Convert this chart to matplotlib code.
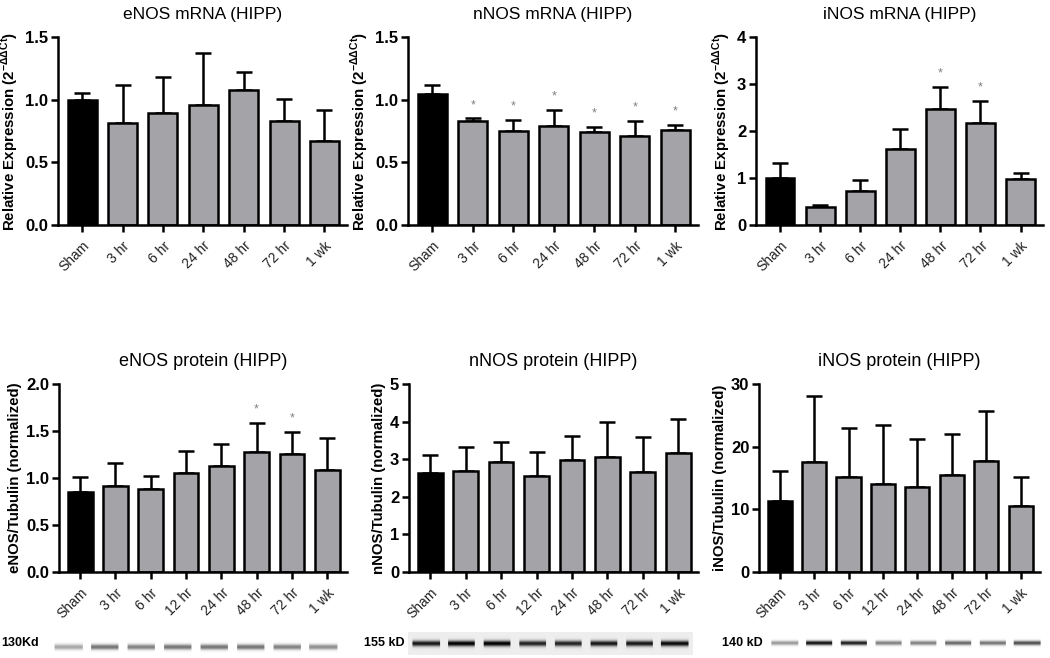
"""
NOS isoform mRNA and protein time course in hippocampus (6 panels + blots).
"""
import numpy as np
import matplotlib
matplotlib.use('Agg')
import matplotlib.pyplot as plt
from matplotlib import rcParams

rcParams['font.family'] = ['Liberation Sans', 'DejaVu Sans']
rcParams['mathtext.fontset'] = 'custom'
rcParams['mathtext.rm'] = 'Liberation Sans'
rcParams['mathtext.bf'] = 'Liberation Sans:bold'

# ---- data ----
mrna_groups = ['Sham', '3 hr', '6 hr', '24 hr', '48 hr', '72 hr', '1 wk']
prot_groups = ['Sham', '3 hr', '6 hr', '12 hr', '24 hr', '48 hr', '72 hr', '1 wk']

enos_mrna = [1.00, 0.815, 0.897, 0.96, 1.075, 0.826, 0.674]
enos_mrna_top = [1.05, 1.12, 1.18, 1.372, 1.218, 1.003, 0.918]
enos_mrna_star = []

nnos_mrna = [1.049, 0.83, 0.75, 0.79, 0.74, 0.71, 0.754]
nnos_mrna_top = [1.12, 0.85, 0.84, 0.92, 0.785, 0.83, 0.80]
nnos_mrna_star = [1, 2, 3, 4, 5, 6]

inos_mrna = [1.01, 0.39, 0.73, 1.61, 2.46, 2.17, 0.97]
inos_mrna_top = [1.32, 0.42, 0.95, 2.04, 2.93, 2.63, 1.11]
inos_mrna_star = [4, 5]

enos_prot = [0.855, 0.911, 0.883, 1.053, 1.124, 1.273, 1.252, 1.082]
enos_prot_top = [1.007, 1.16, 1.018, 1.284, 1.365, 1.585, 1.489, 1.426]
enos_prot_star = [5, 6]

nnos_prot = [2.63, 2.69, 2.93, 2.54, 2.99, 3.07, 2.65, 3.16]
nnos_prot_top = [3.12, 3.32, 3.45, 3.20, 3.63, 4.00, 3.60, 4.07]
nnos_prot_star = []

inos_prot = [11.3, 17.5, 15.1, 14.1, 13.5, 15.5, 17.7, 10.6]
inos_prot_top = [16.1, 28.1, 23.0, 23.5, 21.3, 22.0, 25.7, 15.2]
inos_prot_star = []

# western blot band darkness (0 = none, 1 = black), one per lane
enos_bands = [0.35, 0.55, 0.50, 0.55, 0.55, 0.55, 0.50, 0.45]
nnos_bands = [0.85, 0.95, 0.95, 0.80, 0.80, 0.85, 0.85, 0.90]
inos_bands = [0.40, 0.95, 0.90, 0.50, 0.50, 0.60, 0.55, 0.70]

W, H = 1050, 658
fig = plt.figure(figsize=(W / 100, H / 100), dpi=100)


def px_axes(l, t, r, b):
    return fig.add_axes([l / W, 1 - b / H, (r - l) / W, (b - t) / H])


gray = '#a4a4a8'


def bar_panel(ax, groups, vals, tops, stars, ymax, yticks, fmt, title, ylabel,
              width, tsize):
    x = np.arange(len(groups))
    colors = ['black'] + [gray] * (len(groups) - 1)
    up = np.array(tops) - np.array(vals)
    ax.errorbar(x, vals, yerr=[np.zeros(len(x)), up], fmt='none', ecolor='black',
                elinewidth=1.8, capsize=6, capthick=1.8, zorder=1)
    ax.bar(x, vals, width=width, color=colors, edgecolor='black', linewidth=1.8, zorder=2)
    for i in stars:
        ax.text(i, tops[i] + ymax * 0.04, '*', ha='center', va='bottom',
                fontsize=9, color='#808080')
    ax.set_xlim(-0.6, len(groups) - 1 + 0.56)
    ax.set_ylim(0, ymax)
    ax.set_yticks(yticks)
    ax.set_yticklabels([fmt.format(v) for v in yticks], fontsize=12, fontweight='bold')
    ax.set_xticks(x)
    ax.set_xticklabels(groups, rotation=45, ha='right', rotation_mode='anchor',
                       fontsize=10, color='#222222')
    ax.tick_params(direction='out', length=5, width=1.8)
    ax.tick_params(axis='x', pad=5)
    ax.tick_params(axis='y', pad=2)
    ax.spines['top'].set_visible(False)
    ax.spines['right'].set_visible(False)
    ax.spines['left'].set_linewidth(1.8)
    ax.spines['bottom'].set_linewidth(1.8)
    ax.spines['left'].set_bounds(0, ymax)
    ax.set_title(title, fontsize=tsize, pad=13)
    ax.set_ylabel(ylabel, fontsize=10.8, fontweight='bold', labelpad=3)


def blot(ax, bands, label, label_x, box=False):
    n = len(bands)
    yy = np.linspace(-1, 1, 40)[:, None]
    xx = np.linspace(0, n, n * 40)[None, :]
    lane = np.clip(xx.astype(int), 0, n - 1)
    frac = xx - np.floor(xx)
    dark = np.array(bands)[lane]
    img = dark * np.exp(-(yy / 0.25) ** 2) * (np.abs(frac - 0.5) < 0.38)
    base = 0.07 if box else 0.0
    ax.imshow(1 - np.clip(img + base, 0, 1), cmap='gray', vmin=0, vmax=1,
              aspect='auto', extent=[0, n, -1, 1], interpolation='bilinear')
    ax.set_axis_off()
    fig.text(label_x / W, 1 - 643 / H, label, fontsize=9, fontweight='bold',
             va='center', ha='left')


ylab_mrna = r'Relative Expression (2$^{\mathbf{-\Delta\Delta Ct}}$)'

ax = px_axes(58, 37, 347, 225)
bar_panel(ax, mrna_groups, enos_mrna, enos_mrna_top, enos_mrna_star, 1.5,
          [0, 0.5, 1.0, 1.5], '{:.1f}', 'eNOS mRNA (HIPP)', ylab_mrna, 0.72, 12.5)

ax = px_axes(408, 37, 698, 225)
bar_panel(ax, mrna_groups, nnos_mrna, nnos_mrna_top, nnos_mrna_star, 1.5,
          [0, 0.5, 1.0, 1.5], '{:.1f}', 'nNOS mRNA (HIPP)', ylab_mrna, 0.72, 12.5)

ax = px_axes(756, 37, 1043, 225)
bar_panel(ax, mrna_groups, inos_mrna, inos_mrna_top, inos_mrna_star, 4,
          [0, 1, 2, 3, 4], '{:d}', 'iNOS mRNA (HIPP)', ylab_mrna, 0.72, 12.5)

ax = px_axes(59, 384, 347, 572)
bar_panel(ax, prot_groups, enos_prot, enos_prot_top, enos_prot_star, 2.0,
          [0, 0.5, 1.0, 1.5, 2.0], '{:.1f}', 'eNOS protein (HIPP)',
          'eNOS/Tubulin (normalized)', 0.7, 13)

ax = px_axes(409, 384, 698, 572)
bar_panel(ax, prot_groups, nnos_prot, nnos_prot_top, nnos_prot_star, 5,
          [0, 1, 2, 3, 4, 5], '{:d}', 'nNOS protein (HIPP)',
          'nNOS/Tubulin (normalized)', 0.7, 13)

ax = px_axes(759, 384, 1040, 572)
bar_panel(ax, prot_groups, inos_prot, inos_prot_top, inos_prot_star, 30,
          [0, 10, 20, 30], '{:d}', 'iNOS protein (HIPP)',
          'iNOS/Tubulin (normalized)', 0.7, 13)

blot(px_axes(50, 636, 342, 658), enos_bands, '130Kd', 1)
blot(px_axes(408, 632, 693, 655), nnos_bands, '155 kD', 364, box=True)
blot(px_axes(767, 634, 1045, 652), inos_bands, '140 kD', 722)

fig.savefig('out.png', dpi=100)
